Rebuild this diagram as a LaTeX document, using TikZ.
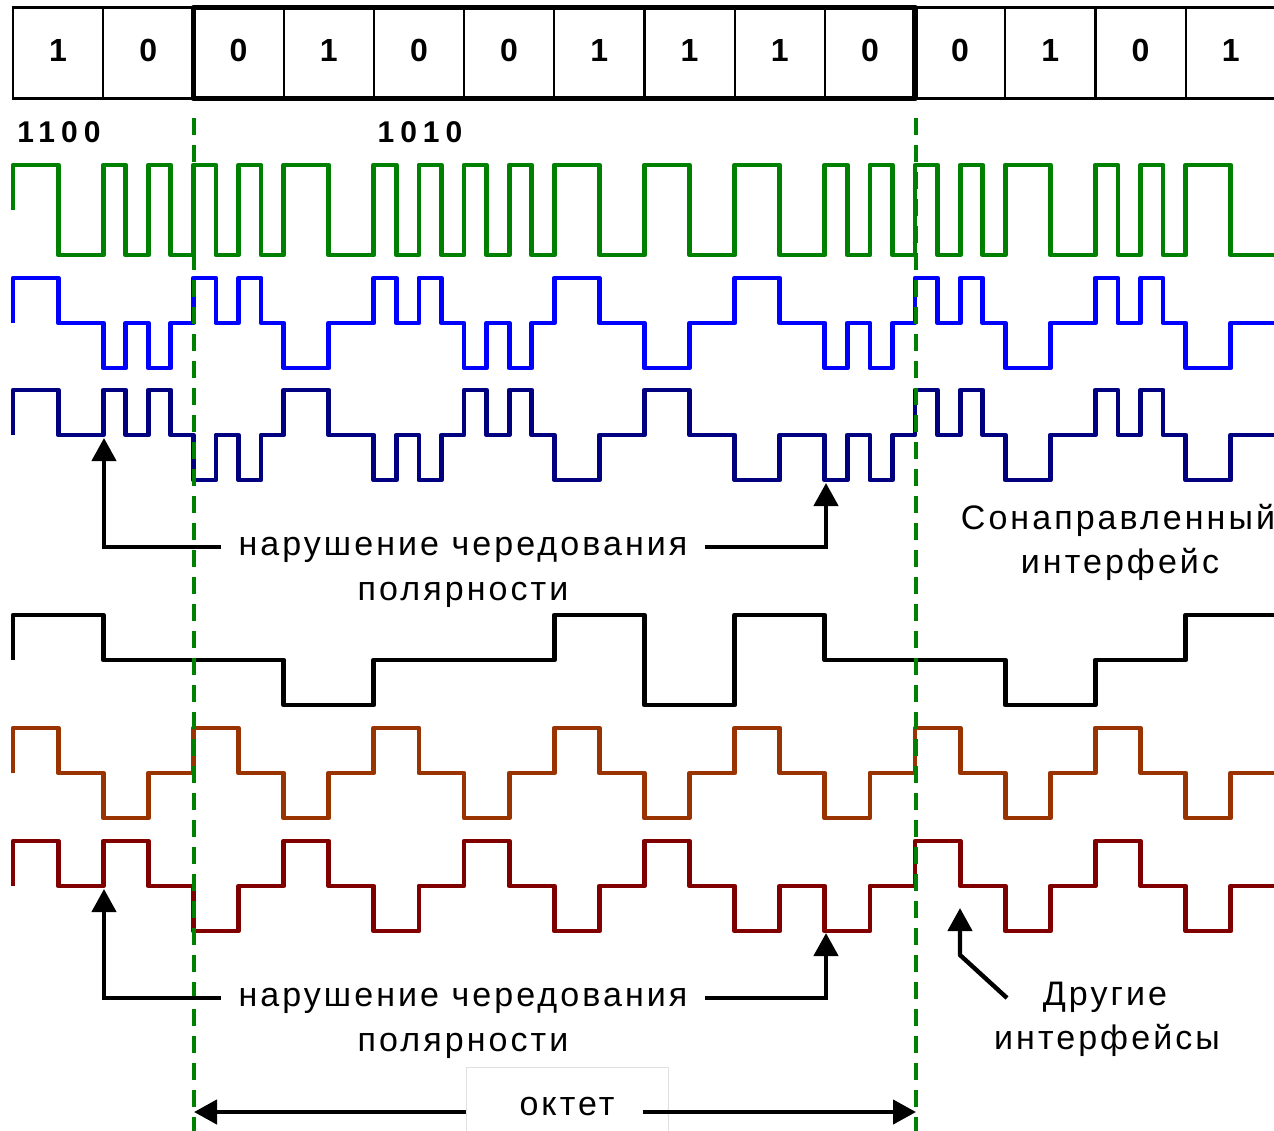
\documentclass[tikz,border=0pt]{standalone}
\usepackage{fontspec}
\setmainfont{Liberation Sans}
\newfontfamily\lblfont{Liberation Sans}[LetterSpace=9]
\newfontfamily\codefont{Liberation Sans}[LetterSpace=20]
\usetikzlibrary{arrows.meta}
\definecolor{wgreen}{RGB}{0,128,0}
\definecolor{wblue}{RGB}{0,0,255}
\definecolor{wnavy}{RGB}{0,0,128}
\definecolor{wbrown}{RGB}{153,51,0}
\definecolor{wred}{RGB}{128,0,0}
\newcommand\qunit{22.55}
\newcommand\wavepath[4]{\draw[wave,#1] (13,#2) \foreach \v [count=\k from 0] in {#4} { -- ({13+\k*#3},{#2-45*\v}) -- ({13+(\k+1)*#3},{#2-45*\v}) };}
\begin{document}
\begin{tikzpicture}[x=1pt,y=-1pt,
  cell/.style={draw, line width=2.2pt, minimum width=90.2pt, minimum height=91pt, inner sep=0pt, outer sep=0pt, text depth=6pt, font=\bfseries\fontsize{32}{38}\selectfont},
  code/.style={inner sep=0pt, font=\codefont\bfseries\fontsize{30}{34}\selectfont},
  wave/.style={line width=4.8pt, line join=round},
  lbl/.style={inner sep=0pt, font=\lblfont\fontsize{34}{40}\selectfont, text height=24.5pt, text depth=7.5pt},
  arr/.style={line width=4.4pt, -{Triangle[length=23pt,width=24pt]}},
  gdash/.style={wgreen, line width=4.2pt, dash pattern=on 17pt off 10pt}]
\useasboundingbox (0,0) rectangle (1274,1130);
\fill[white] (0,0) rectangle (1274,1130);
% bit cells
\foreach \b [count=\i from 0] in {1,0,0,1,0,0,1,1,1,0,0,1,0,1}
  \node[cell] (c\i) at ({58.1+\i*90.2},53) {\b};
\draw[line width=5.5pt, line join=round] (c2.north west) rectangle (c9.south east);
% code labels
\node[code] (k1) at (59,132) {1100};
\node[code] (k2) at (420,132) {1010};
% waveforms
\wavepath{wgreen}{210}{\qunit}{1,1,-1,-1, 1,-1,1,-1, 1,-1,1,-1, 1,1,-1,-1, 1,-1,1,-1, 1,-1,1,-1, 1,1,-1,-1, 1,1,-1,-1, 1,1,-1,-1, 1,-1,1,-1, 1,-1,1,-1, 1,1,-1,-1, 1,-1,1,-1, 1,1,-1,-1}
\wavepath{wblue}{323}{\qunit}{1,1,0,0, -1,0,-1,0, 1,0,1,0, -1,-1,0,0, 1,0,1,0, -1,0,-1,0, 1,1,0,0, -1,-1,0,0, 1,1,0,0, -1,0,-1,0, 1,0,1,0, -1,-1,0,0, 1,0,1,0, -1,-1,0,0}
\wavepath{wnavy}{435}{\qunit}{1,1,0,0, 1,0,1,0, -1,0,-1,0, 1,1,0,0, -1,0,-1,0, 1,0,1,0, -1,-1,0,0, 1,1,0,0, -1,-1,0,0, -1,0,-1,0, 1,0,1,0, -1,-1,0,0, 1,0,1,0, -1,-1,0,0}
\wavepath{black}{660}{90.2}{1,0,0,-1,0,0,1,-1,1,0,0,-1,0,1}
\wavepath{wbrown}{773}{45.1}{1,0,-1,0,1,0,-1,0,1,0,-1,0,1,0,-1,0,1,0,-1,0,1,0,-1,0,1,0,-1,0}
\wavepath{wred}{886}{45.1}{1,0,1,0,-1,0,1,0,-1,0,1,0,-1,0,1,0,-1,0,-1,0,1,0,-1,0,1,0,-1,0}
% octet markers
\draw[gdash] (194,118) -- (194,1140);
\draw[gdash] (916,118) -- (916,1140);
% violation labels (upper)
\node[lbl, inner xsep=17pt] (v1a) at (463,547) {нарушение чередования};
\node[lbl] (v1b) at (463,592) {полярности};
\coordinate (t1) at (104,438);
\coordinate (t2) at (826,483);
\draw[arr] (v1a.west) -| (t1);
\draw[arr] (v1a.east) -| (t2);
% violation labels (lower)
\node[lbl, inner xsep=17pt] (v2a) at (463,998) {нарушение чередования};
\node[lbl] (v2b) at (463,1043) {полярности};
\coordinate (t3) at (104,889);
\coordinate (t4) at (826,933);
\draw[arr] (v2a.west) -| (t3);
\draw[arr] (v2a.east) -| (t4);
% codirectional interface
\node[lbl] (s1) at (1118,521) {Сонаправленный};
\node[lbl] (s2) at (1120,565) {интерфейс};
% other interfaces
\node[lbl] (o1) at (1105,997) {Другие};
\node[lbl] (o2) at (1107,1041) {интерфейсы};
\coordinate (d0) at (1007,998);
\coordinate (d1) at (960,955);
\coordinate (t5) at (960,908);
\draw[arr, line join=round] (d0) -- (d1) -- (t5);
% octet
\node[lbl, draw=black!12, line width=1pt, fill=white, minimum width=202pt, minimum height=80pt] (oct) at (567,1107) {октет};
\coordinate (ol) at (194,1112);
\coordinate (or) at (916,1112);
\draw[arr] (oct.west |- ol) -- (ol);
\draw[arr] ([xshift=-26pt]oct.east |- or) -- (or);
\end{tikzpicture}
\end{document}
